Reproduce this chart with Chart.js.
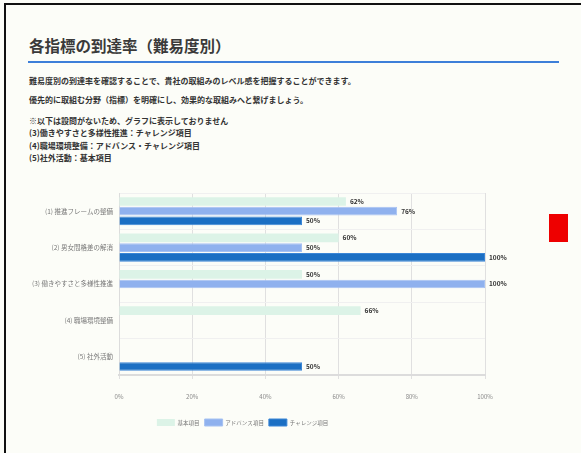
<!DOCTYPE html>
<html><head><meta charset="utf-8">
<script src="https://cdn.jsdelivr.net/npm/chart.js@4/dist/chart.umd.min.js"></script>
<style>
html,body{margin:0;padding:0;background:#fcfdf8;}
body{width:581px;height:453px;position:relative;overflow:hidden;font-family:"Noto Sans CJK JP","Noto Sans",sans-serif;color:#333;}
#frame{position:absolute;left:4px;top:3px;width:600px;height:470px;border-left:2px solid #111;border-top:2px solid #111;}
#title{position:absolute;left:29px;top:34px;font-size:15.5px;font-weight:700;color:#3a3a3a;white-space:nowrap;}
#rule{position:absolute;left:28px;top:61px;width:531px;height:2px;background:#3d7fd9;}
.t{position:absolute;left:29px;font-size:8px;font-weight:700;color:#333;white-space:nowrap;line-height:10px;}
#red{position:absolute;left:549px;top:214px;width:19px;height:28px;background:#ee0000;}
#cw{position:absolute;left:0px;top:179px;width:516px;height:263px;}
</style></head>
<body>
<div id="frame"></div>
<div id="title">各指標の到達率（難易度別）</div>
<div id="rule"></div>
<div class="t" style="top:76px">難易度別の到達率を確認することで、貴社の取組みのレベル感を把握することができます。</div>
<div class="t" style="top:95px">優先的に取組む分野（指標）を明確にし、効果的な取組みへと繋げましょう。</div>
<div class="t" style="top:116px">※以下は設問がないため、グラフに表示しておりません</div>
<div class="t" style="top:128px">(3)働きやすさと多様性推進：チャレンジ項目</div>
<div class="t" style="top:141px">(4)職場環境整備：アドバンス・チャレンジ項目</div>
<div class="t" style="top:153px">(5)社外活動：基本項目</div>
<div id="red"></div>
<div id="cw"><canvas id="c"></canvas></div>
<script>
const categories = ["(1) 推進フレームの整備","(2) 男女間格差の解消","(3) 働きやすさと多様性推進","(4) 職場環境整備","(5) 社外活動"];
const seriesNames = ["基本項目","アドバンス項目","チャレンジ項目"];
const basicValues = [62, 60, 50, 66, null];
const advanceValues = [76, 50, 100, null, null];
const challengeValues = [50, 100, null, null, 50];
const xTicks = [0, 20, 40, 60, 80, 100];

const FONT = '"Noto Sans CJK JP", sans-serif';
const labelPlugin = {
  id: 'barLabels',
  afterDatasetsDraw(chart) {
    const ctx = chart.ctx;
    ctx.save();
    ctx.font = 'bold 6.5px ' + FONT;
    ctx.fillStyle = '#333';
    ctx.textBaseline = 'middle';
    ctx.textAlign = 'left';
    chart.data.datasets.forEach((ds, i) => {
      chart.getDatasetMeta(i).data.forEach((el, j) => {
        const v = ds.data[j];
        if (v == null) return;
        ctx.fillText(v + '%', el.x + 4, el.y);
      });
    });
    ctx.restore();
  }
};

new Chart(document.getElementById('c'), {
  type: 'bar',
  data: {
    labels: categories,
    datasets: [
      {label: seriesNames[0], data: basicValues, backgroundColor: '#dcf3e7', borderColor: '#dcf3e7', borderWidth: 0},
      {label: seriesNames[1], data: advanceValues, backgroundColor: '#8fb1ee', borderColor: '#a6c2f2', borderWidth: 1},
      {label: seriesNames[2], data: challengeValues, backgroundColor: '#1b6fc3', borderColor: '#3b86d6', borderWidth: 1}
    ]
  },
  options: {
    indexAxis: 'y',
    responsive: true,
    maintainAspectRatio: false,
    animation: false,
    layout: {padding: {top: 14, right: 31, left: 0, bottom: 6}},
    plugins: {
      legend: {
        position: 'bottom',
        labels: {boxWidth: 18, boxHeight: 7, font: {size: 5.5, family: FONT}, color: '#777', padding: 5}
      },
      tooltip: {enabled: false}
    },
    scales: {
      x: {
        min: 0, max: 100,
        afterBuildTicks(s) { s.ticks = xTicks.map(v => ({value: v})); },
        afterFit(s) { s.height = 39; },
        ticks: {callback: v => v + '%', font: {size: 6, family: FONT}, color: '#888', padding: 14},
        grid: {color: '#e0e0e0', tickLength: 4},
        border: {color: '#dcdcdc', width: 2}
      },
      y: {
        afterFit(s) { s.width = 119; },
        ticks: {font: {size: 6.5, family: FONT}, color: '#777', padding: 6},
        grid: {color: '#f0f0f0', drawTicks: false},
        border: {color: '#dcdcdc'}
      }
    }
  },
  plugins: [labelPlugin]
});
</script>
</body></html>
